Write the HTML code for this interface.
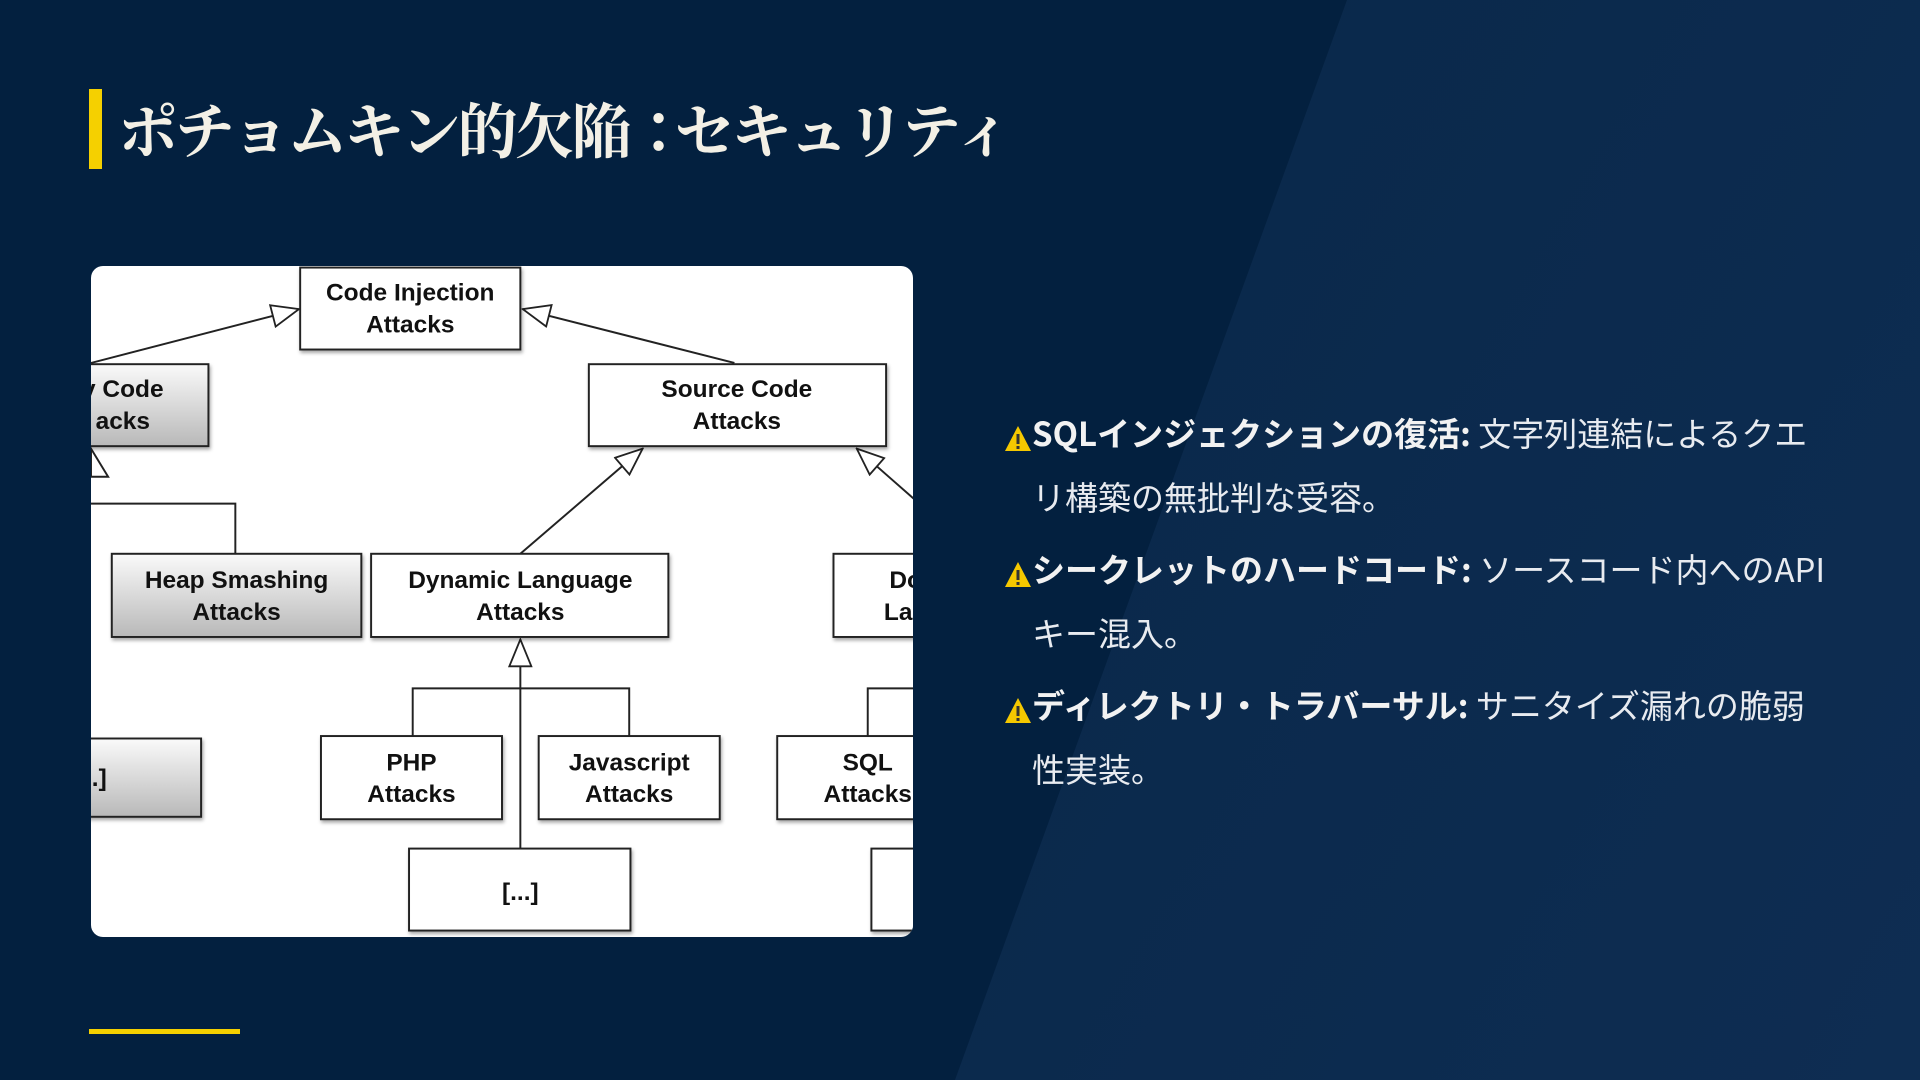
<!DOCTYPE html>
<html><head><meta charset="utf-8"><style>
html,body{margin:0;padding:0}
body{width:1920px;height:1080px;position:relative;overflow:hidden;background:#03203f;font-family:"Liberation Sans","Noto Sans CJK JP",sans-serif}
.bg{position:absolute;inset:0;background:linear-gradient(120deg,#062444,#0e2d52);clip-path:polygon(1347px 0,1920px 0,1920px 1080px,955px 1080px)}
.bar{position:absolute;left:89px;top:89px;width:13px;height:80px;background:#f5d000}
.title{position:absolute;left:118px;top:88px;font-family:"Noto Serif CJK JP",serif;font-size:60px;font-weight:700;color:#f3f0e6;white-space:nowrap;line-height:80px;letter-spacing:-3px}
.panel{position:absolute;left:91px;top:266px;width:822px;height:671px;background:#fff;border-radius:12px;overflow:hidden}
.bl{position:absolute;left:89px;top:1029px;width:151px;height:5px;background:#f5d000}
.list{position:absolute;left:1000px;top:400px;color:#e8ebf0;font-family:"Noto Sans CJK JP",sans-serif;font-size:33px;line-height:64px}
.item{position:relative;padding-left:32px;margin-bottom:8px;white-space:nowrap}
.item b{font-weight:700;color:#f2f2f2}
.warn{position:absolute;left:4px;top:24px;width:28px;height:28px}
</style></head><body>
<div class="bg"></div>
<div class="bar"></div>
<div class="title">ポチョムキン的欠陥<span style="letter-spacing:-14px">：</span>セキュリティ</div>
<div class="panel">
<svg width="822" height="671" viewBox="74 217 672 548" xmlns="http://www.w3.org/2000/svg" font-family="Liberation Sans, sans-serif" font-weight="700" font-size="20" text-anchor="middle">
<defs>
<linearGradient id="g" x1="0" y1="0" x2="0" y2="1"><stop offset="0" stop-color="#fafafa"/><stop offset="1" stop-color="#b8b8b8"/></linearGradient>
<marker id="a" viewBox="0 0 24 20" refX="23" refY="10" markerWidth="24" markerHeight="20" markerUnits="userSpaceOnUse" orient="auto"><path d="M1,1 L23,10 L1,19 Z" fill="#fff" stroke="#222" stroke-width="1.5"/></marker>
<filter id="s"><feDropShadow dx="1" dy="2" stdDeviation="1.5" flood-opacity="0.35"/></filter>
</defs>
<g stroke="#222" stroke-width="1.6" fill="none">
<line x1="74" y1="296" x2="244" y2="252" marker-end="url(#a)"/>
<line x1="600" y1="296" x2="427" y2="252" marker-end="url(#a)"/>
<line x1="425" y1="452" x2="525" y2="366" marker-end="url(#a)"/>
<line x1="750" y1="410" x2="700" y2="366" marker-end="url(#a)"/>
<polyline points="74,411 192,411 192,452"/>
<line x1="425" y1="693" x2="425" y2="522" marker-end="url(#a)"/>
<polyline points="337,601 337,562 514,562 514,601"/>
<polyline points="709,601 709,562 750,562"/>
<polygon points="74,366 88,389 74,389" fill="#fff"/>
</g>
<g stroke="#222" stroke-width="1.6" filter="url(#s)">
<rect x="245" y="218" width="180" height="67" fill="#fff"/>
<rect x="60" y="297" width="110" height="67" fill="url(#g)"/>
<rect x="481" y="297" width="243" height="67" fill="#fff"/>
<rect x="91" y="452" width="204" height="68" fill="url(#g)"/>
<rect x="303" y="452" width="243" height="68" fill="#fff"/>
<rect x="681" y="452" width="90" height="68" fill="#fff"/>
<rect x="60" y="603" width="104" height="64" fill="url(#g)"/>
<rect x="262" y="601" width="148" height="68" fill="#fff"/>
<rect x="440" y="601" width="148" height="68" fill="#fff"/>
<rect x="635" y="601" width="130" height="68" fill="#fff"/>
<rect x="334" y="693" width="181" height="67" fill="#fff"/>
<rect x="712" y="693" width="60" height="67" fill="#fff"/>
</g>
<g fill="#111">
<text x="335" y="245">Code Injection</text><text x="335" y="271">Attacks</text>
<text x="100" y="324">y Code</text><text x="100" y="350">acks</text>
<text x="602" y="324">Source Code</text><text x="602" y="350">Attacks</text>
<text x="193" y="480">Heap Smashing</text><text x="193" y="506">Attacks</text>
<text x="425" y="480">Dynamic Language</text><text x="425" y="506">Attacks</text>
<text x="740" y="480">Do</text><text x="740" y="506">Lan</text>
<text x="78" y="642">..]</text>
<text x="336" y="629">PHP</text><text x="336" y="655">Attacks</text>
<text x="514" y="629">Javascript</text><text x="514" y="655">Attacks</text>
<text x="709" y="629">SQL</text><text x="709" y="655">Attacks</text>
<text x="425" y="735">[...]</text>
</g>
</svg>
</div>
<div class="list">
<div class="item"><svg class="warn" viewBox="0 0 28 28"><path d="M14,2 L27,27 L1,27 Z" fill="#f5c800"/><rect x="12.5" y="10" width="3" height="10" fill="#333"/><rect x="12.5" y="22" width="3" height="3" fill="#333"/></svg><b>SQLインジェクションの復活:</b> 文字列連結によるクエ<br>リ構築の無批判な受容。</div>
<div class="item"><svg class="warn" viewBox="0 0 28 28"><path d="M14,2 L27,27 L1,27 Z" fill="#f5c800"/><rect x="12.5" y="10" width="3" height="10" fill="#333"/><rect x="12.5" y="22" width="3" height="3" fill="#333"/></svg><b>シークレットのハードコード:</b> ソースコード内へのAPI<br>キー混入。</div>
<div class="item"><svg class="warn" viewBox="0 0 28 28"><path d="M14,2 L27,27 L1,27 Z" fill="#f5c800"/><rect x="12.5" y="10" width="3" height="10" fill="#333"/><rect x="12.5" y="22" width="3" height="3" fill="#333"/></svg><b>ディレクトリ・トラバーサル:</b> サニタイズ漏れの脆弱<br>性実装。</div>
</div>
<div class="bl"></div>
</body></html>
